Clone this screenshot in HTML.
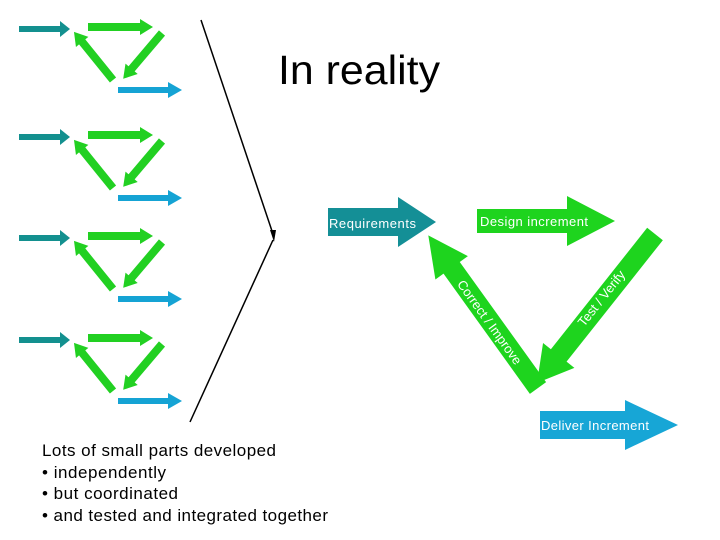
<!DOCTYPE html>
<html><head><meta charset="utf-8"><style>
html,body{margin:0;padding:0;background:#fff;}
svg{display:block;font-family:"Liberation Sans",sans-serif;}
</style></head><body>
<svg width="720" height="540" viewBox="0 0 720 540" xmlns="http://www.w3.org/2000/svg">
<defs>
<g id="grp">
  <polygon transform="translate(19,29)" points="0,-3 41,-3 41,-8 51,0 41,8 41,3 0,3" fill="#13908f"/>
  <polygon transform="translate(88,27)" points="0,-4 52,-4 52,-8 65,0 52,8 52,4 0,4" fill="#22d022"/>
  <polygon transform="translate(162,33) rotate(130.3)" points="0,-4 47,-4 47,-8 60,0 47,8 47,4 0,4" fill="#22d022"/>
  <polygon transform="translate(113,80) rotate(-129)" points="0,-4 49,-4 49,-8 62,0 49,8 49,4 0,4" fill="#22d022"/>
  <polygon transform="translate(118,90)" points="0,-3 50,-3 50,-8 64,0 50,8 50,3 0,3" fill="#15a3d4"/>
</g>
</defs>
<use href="#grp"/>
<use href="#grp" transform="translate(0,108)"/>
<use href="#grp" transform="translate(0,209)"/>
<use href="#grp" transform="translate(0,311)"/>

<text x="278" y="84" font-size="41" fill="#000" textLength="162" lengthAdjust="spacingAndGlyphs">In reality</text>

<line x1="201" y1="20" x2="273" y2="234" stroke="#000" stroke-width="1.5"/>
<line x1="273" y1="240" x2="190" y2="422" stroke="#000" stroke-width="1.5"/>
<polygon points="270,230 276,230 274,242" fill="#000"/>

<polygon transform="translate(328,222)" points="0,-14 70,-14 70,-25 108,0 70,25 70,14 0,14" fill="#148f96"/>
<text x="329" y="228" font-size="13" fill="#fff" textLength="87">Requirements</text>

<polygon transform="translate(477,221)" points="0,-12 90,-12 90,-25 138,0 90,25 90,12 0,12" fill="#1ed41e"/>
<text x="480" y="226" font-size="13" fill="#fff" textLength="108">Design increment</text>

<polygon transform="translate(655,234) rotate(128.4)" points="0,-10 155,-10 155,-20 190,0 155,20 155,10 0,10" fill="#1ed41e"/>
<text transform="translate(601,298) rotate(-51.6)" text-anchor="middle" y="5" font-size="13" fill="#fff">Test / Verify</text>

<polygon transform="translate(538,388) rotate(-125.7)" points="0,-10 148,-10 148,-20 188,0 148,20 148,10 0,10" fill="#1ed41e"/>
<text transform="translate(490,322) rotate(54.3)" text-anchor="middle" y="5" font-size="13" fill="#fff">Correct / Improve</text>

<polygon transform="translate(540,425)" points="0,-14 85,-14 85,-25 138,0 85,25 85,14 0,14" fill="#17a6d6"/>
<text x="541" y="430" font-size="13" fill="#fff" textLength="108">Deliver Increment</text>

<g font-size="17" fill="#000">
<text x="42" y="456" textLength="234">Lots of small parts developed</text>
<text x="42" y="478" textLength="124">• independently</text>
<text x="42" y="499" textLength="136">• but coordinated</text>
<text x="42" y="521" textLength="286">• and tested and integrated together</text>
</g>
</svg>
</body></html>
